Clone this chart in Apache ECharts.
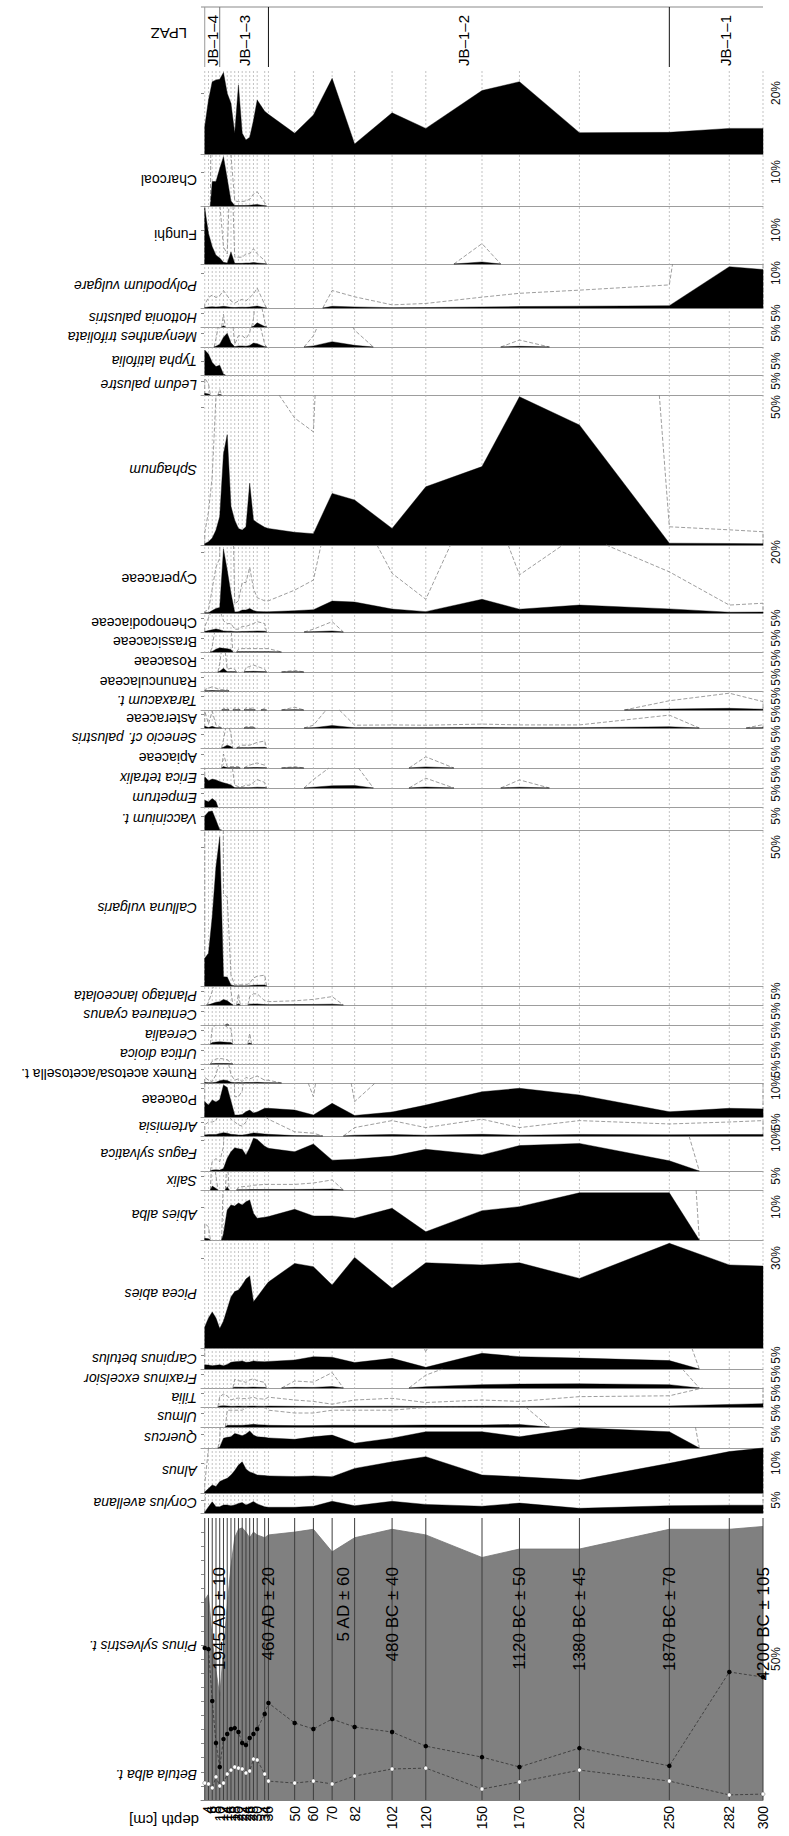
<!DOCTYPE html>
<html>
<head>
<meta charset="utf-8">
<title>Pollen diagram JB-1</title>
<script src="https://cdn.jsdelivr.net/npm/echarts@6/dist/echarts.min.js"></script>
<style>
  html, body { margin: 0; padding: 0; background: #fff; }
  #chart { width: 789px; height: 1836px; }
</style>
</head>
<body>
<div id="chart"></div>
<script>
// Sample depths (cm)
const depths = [2, 4, 6, 8, 10, 12, 14, 16, 18, 20, 22, 24, 26, 28, 30, 34, 36, 50, 60, 70, 82, 102, 120, 150, 170, 202, 250, 282, 300];

// Main panel: arboreal pollen sum, Betula curve and Pinus curve (%)
const arborealSum = [71, 73, 57, 46, 37, 53, 69, 83, 93, 96, 96.5, 95, 93, 95, 94, 93, 94, 95, 96, 88, 93, 96, 94, 86, 89, 89, 96, 96, 97];
const betula = [6.0, 5.7, 4.3, 8.2, 5.0, 6.0, 9.2, 10.6, 11.7, 11.3, 11.0, 9.6, 10.3, 14.5, 14.2, 9.2, 6.7, 6.0, 6.7, 5.7, 8.5, 11.0, 11.3, 3.9, 6.4, 10.6, 6.7, 1.8, 2.1];
const pinus = [53.9, 53.5, 35.1, 20.2, 11.7, 21.6, 23.4, 25.2, 25.5, 24.1, 20.2, 19.5, 22.0, 23.4, 25.2, 30.5, 34.4, 27.3, 25.2, 28.7, 25.9, 24.1, 19.1, 15.2, 11.7, 18.4, 12.1, 45.4, 43.6];

// Trees and shrubs (%)
const corylus = [0.3, 2.4, 4.3, 2.4, 2.4, 3.1, 3.1, 2.8, 3.1, 3.7, 4.0, 3.1, 3.7, 4.4, 3.5, 2.4, 2.2, 2.2, 2.6, 4.5, 2.8, 4.5, 3.3, 2.6, 3.8, 1.8, 2.8, 3.0, 3.0];
const alnus = [0.3, 1.5, 2.7, 2.2, 3.8, 4.4, 4.9, 6.0, 7.5, 9.3, 10.4, 8.0, 7.0, 6.6, 6.0, 5.8, 5.7, 5.5, 5.7, 5.4, 8.2, 10.4, 12.1, 6.0, 5.4, 4.3, 9.9, 13.8, 15.0];
const quercus = [0, 0, 0, 0, 0.3, 3.5, 3.8, 4.0, 5.2, 4.8, 4.4, 5.0, 6.1, 4.6, 4.0, 3.8, 3.6, 3.1, 4.0, 4.6, 1.7, 3.5, 5.8, 5.8, 4.0, 7.2, 5.8, 0, 0];
const ulmus = [0, 0, 0, 0, 0, 0, 0.6, 0.6, 0.6, 0.6, 0.6, 0.7, 0.8, 1.0, 0.8, 0.7, 0.6, 0.5, 0.5, 0.6, 0.6, 0.6, 0.7, 0.7, 0.9, 0, 0, 0, 0];
const tilia = [0, 0, 0, 0, 0.37, 0.46, 0.4, 0.25, 0.3, 0.32, 0.3, 0.3, 0.32, 0.35, 0.3, 0.28, 0.35, 0.25, 0.2, 0.1, 0.25, 0.31, 0.16, 0.25, 0.2, 0.37, 0.4, 0.9, 1.2];
const fraxinus = [0, 0, 0, 0, 0, 0, 0, 0, 0.31, 0.26, 0.24, 0.2, 0.29, 0.33, 0.26, 0.2, 0, 0.25, 0.21, 0.55, 0, 0, 0.46, 1.2, 1.4, 1.5, 1.2, 0, 0];
const carpinus = [1.5, 1.4, 1.2, 1.3, 1.5, 1.2, 1.6, 2.4, 2.6, 2.7, 2.9, 2.4, 2.5, 2.9, 2.7, 2.6, 2.7, 3.2, 4.4, 4.2, 2.3, 3.8, 0.6, 5.6, 4.4, 3.9, 3.0, 0, 0];
const picea = [7.0, 10, 12, 10, 6.5, 9, 13, 17, 18.8, 19.3, 21, 23, 24, 15.4, 17, 20.4, 22, 28.2, 27.1, 21, 30.2, 19.9, 28.4, 27.7, 28.4, 23.2, 34.9, 27.7, 27.3];
const abies = [0.5, 0.4, 0, 0, 0, 2.0, 9.1, 10.6, 10.3, 11.2, 10.6, 11.6, 12.1, 8.1, 6.6, 6.9, 7.1, 9.3, 7.3, 7.3, 6.6, 9.6, 2.5, 8.9, 10.1, 14.3, 14.3, 0, 0];
const salix = [0, 0, 1.4, 0.5, 0, 0, 1.2, 0, 0, 0.1, 0.12, 0.13, 0.14, 0.17, 0.18, 0.2, 0.2, 0.2, 0.25, 0.36, 0, 0, 0, 0, 0, 0, 0, 0, 0];
const fagus = [0, 0, 0.3, 0.4, 0.3, 0.8, 4.1, 6.2, 7.5, 7.2, 7.0, 5.2, 7.5, 10.6, 10.2, 8.0, 7.3, 6.2, 8.7, 3.5, 3.8, 4.8, 7.0, 5.2, 8.2, 8.9, 3.3, 0, 0];

// Herbs and dwarf shrubs (%)
const artemisia = [0.4, 0.5, 0.5, 0.55, 0.9, 1.2, 1.0, 0.6, 0.5, 0.4, 0.35, 0.5, 0.8, 1.1, 1.0, 0.7, 0.6, 0.15, 0.1, 0, 0.3, 0.55, 0.3, 0.6, 0.3, 0.55, 0.43, 0.5, 0.55];
const poaceae = [5.3, 4.1, 5.9, 5.2, 6.0, 11.0, 10.2, 5.5, 0.7, 0.7, 0.9, 1.8, 2.4, 1.4, 1.7, 3.0, 3.0, 2.4, 0.7, 4.7, 0.53, 1.7, 4.1, 8.7, 9.9, 7.6, 1.8, 3.0, 2.8];
const rumex = [0.2, 0.1, 0.05, 0.3, 0.8, 1.1, 0.9, 0.3, 0.1, 0.15, 0.05, 0.2, 0.15, 0.2, 0.25, 0.1, 0.1, 0, 0, 0, 0, 0, 0, 0, 0, 0, 0, 0, 0];
const urtica = [0, 0, 0.1, 0.18, 0.2, 0.18, 0.15, 0.05, 0, 0, 0, 0, 0, 0, 0, 0, 0, 0, 0, 0, 0, 0, 0, 0, 0, 0, 0, 0, 0];
const cerealia = [0, 0, 0.55, 0.7, 0.8, 0.7, 0.6, 0.55, 0, 0, 0, 0, 0.38, 0, 0, 0, 0, 0, 0, 0, 0, 0, 0, 0, 0, 0, 0, 0, 0];
const centaurea = [0, 0, 0, 0, 0, 0, 0.05, 0, 0, 0, 0, 0, 0, 0, 0, 0, 0, 0, 0, 0, 0, 0, 0, 0, 0, 0, 0, 0, 0];
const plantago = [0, 0.1, 0.5, 1.0, 1.2, 2.0, 1.5, 0.5, 0, 0.4, 0, 0, 0.3, 0.4, 0.4, 0.15, 0.12, 0.15, 0.2, 0.3, 0, 0, 0, 0, 0, 0, 0, 0, 0];
const calluna = [10, 11.8, 25, 43, 53.7, 3.3, 3.2, 0.4, 0.04, 0.04, 0.04, 0.04, 0.1, 0.29, 0.35, 0.39, 0, 0, 0, 0, 0, 0, 0, 0, 0, 0, 0, 0, 0];
const vaccinium = [5.0, 6.5, 6.8, 3.5, 0.1, 0, 0, 0, 0, 0, 0, 0, 0, 0, 0, 0, 0, 0, 0, 0, 0, 0, 0, 0, 0, 0, 0, 0, 0];
const empetrum = [2.4, 1.9, 3.0, 2.0, 0, 0, 0, 0, 0, 0, 0, 0, 0, 0, 0, 0, 0, 0, 0, 0, 0, 0, 0, 0, 0, 0, 0, 0, 0];
const erica = [4.0, 2.6, 3.2, 2.9, 2.3, 1.9, 1.5, 1.1, 0.1, 0.05, 0.05, 0.1, 0.1, 0.2, 0.3, 0.2, 0, 0, 0.3, 0.8, 0.9, 0, 0.35, 0, 0.29, 0, 0, 0, 0];
const apiaceae = [0, 0, 0, 0, 0, 0.5, 0.05, 0.05, 0.05, 0.05, 0, 0.05, 0.1, 0.15, 0.18, 0.1, 0, 0.05, 0, 0, 0, 0, 0.4, 0, 0, 0, 0, 0, 0];
const senecio = [0, 0, 0, 0, 0, 0.3, 1.0, 0.5, 0, 0.05, 0.1, 0.1, 0.1, 0.15, 0.2, 0.25, 0, 0, 0, 0, 0, 0, 0, 0, 0, 0, 0, 0, 0];
const asteraceae = [0.6, 0.15, 0.6, 0.1, 0.05, 0, 0, 0, 0, 0, 0, 0.05, 0.05, 0.05, 0, 0, 0, 0, 0.1, 0.9, 0.1, 0.11, 0.1, 0.14, 0.11, 0.11, 0.46, 0, 0.12];
const taraxacum = [0, 0, 0, 0, 0, 0.05, 0.08, 0, 0.08, 0.05, 0, 0.08, 0.05, 0.08, 0, 0.06, 0, 0.1, 0, 0, 0, 0, 0, 0, 0, 0, 0.33, 0.6, 0.3];
const ranunculaceae = [0.05, 0.1, 0.15, 0.1, 0.05, 0.05, 0.05, 0, 0, 0, 0, 0, 0, 0, 0, 0, 0, 0, 0, 0, 0, 0, 0, 0, 0, 0, 0, 0, 0];
const rosaceae = [0, 0, 0, 0, 0.3, 1.3, 0.1, 0.13, 0.1, 0, 0, 0.15, 0.2, 0.25, 0.2, 0.1, 0, 0.06, 0, 0, 0, 0, 0, 0, 0, 0, 0, 0, 0];
const brassicaceae = [0, 0, 0.2, 1.0, 1.5, 1.3, 1.2, 0.9, 0, 0.1, 0.12, 0.12, 0.12, 0.12, 0.12, 0.12, 0.12, 0, 0, 0, 0, 0, 0, 0, 0, 0, 0, 0, 0];
const chenopodiaceae = [0.2, 0.5, 0.8, 1.1, 0.8, 0.4, 0.3, 0.3, 0.1, 0.1, 0.2, 0.2, 0.25, 0.3, 0.37, 0.3, 0, 0, 0.1, 0.37, 0, 0, 0, 0, 0, 0, 0, 0, 0];
const cyperaceae = [0.05, 0.1, 0.8, 1.5, 1.8, 21, 14, 6.5, 0.3, 0.4, 1.0, 1.0, 1.5, 0.8, 0.5, 0.4, 0.4, 0.75, 1.08, 3.9, 3.6, 1.3, 0.45, 4.5, 1.25, 2.6, 1.35, 0.26, 0.32];

// Mire taxa, spores, fungi and charcoal (%)
const sphagnum = [0.45, 1.2, 2.5, 5.4, 10.3, 33, 40, 14, 9, 6, 5.4, 6.6, 22.4, 9.1, 8.1, 6.4, 6.0, 4.6, 4.1, 18.7, 16.3, 6.0, 21.1, 28.4, 53.7, 43.5, 0.66, 0.55, 0.48];
const ledum = [0.6, 0.4, 0, 0, 0.2, 0, 0, 0, 0, 0, 0, 0, 0, 0, 0, 0, 0, 0, 0, 0, 0, 0, 0, 0, 0, 0, 0, 0, 0];
const typha = [8.9, 7.5, 4.5, 3.0, 3.5, 0.3, 0, 0, 0, 0, 0, 0, 0, 0, 0, 0, 0, 0, 0, 0, 0, 0, 0, 0, 0, 0, 0, 0, 0];
const menyanthes = [0, 0, 0, 0.3, 1.0, 3.5, 4.9, 1.5, 0.1, 0.4, 0.4, 0.3, 0.5, 1.4, 1.2, 0.1, 0, 0, 0.4, 1.9, 0.6, 0, 0, 0, 0.25, 0, 0, 0, 0];
const hottonia = [0, 0, 0, 0, 0, 0.45, 0, 0, 0, 0, 0, 0, 0, 0.3, 1.5, 0.2, 0, 0, 0, 0, 0, 0, 0, 0, 0, 0, 0, 0, 0];
const polypodium = [0.1, 0.3, 0.37, 0.3, 0.35, 0.5, 0.35, 0.2, 0.14, 0.2, 0.25, 0.2, 0.3, 0.4, 0.57, 0.1, 0, 0, 0, 0.5, 0.32, 0.09, 0.13, 0.31, 0.42, 0.51, 0.66, 11.8, 11.0];
const funghi = [16.5, 9.0, 5.1, 2.6, 1.8, 0.5, 0.3, 3.5, 0.2, 0.2, 0.2, 0.3, 0.3, 0.45, 0.3, 0.1, 0, 0, 0, 0, 0, 0, 0, 0.6, 0, 0, 0, 0, 0];
const charcoal = [0, 0, 7.2, 7.2, 11, 14.5, 8, 1.5, 0.15, 0.13, 0.13, 0.15, 0.2, 0.35, 0.42, 0.1, 0, 0, 0, 0, 0, 0, 0, 0, 0, 0, 0, 0, 0];
const summaryCurve = [9.0, 17.7, 23.7, 24.3, 24.5, 26.7, 19.9, 16.6, 6.8, 22.6, 6.8, 4.6, 5.5, 11.0, 17.7, 14.0, 13.0, 6.8, 12.8, 24.8, 3.3, 13.5, 8.4, 20.8, 23.7, 7.0, 7.1, 8.4, 8.4];

// Radiocarbon dates
const dateDepths = [10, 36, 76, 102, 170, 202, 250, 300];
const dateTexts = ['1945 AD ± 10', '460 AD ± 20', '5 AD ± 60', '480 BC ± 40', '1120 BC ± 50', '1380 BC ± 45', '1870 BC ± 70', '4200 BC ± 105'];

// Local pollen assemblage zones
const zoneNames = ['JB–1–4', 'JB–1–3', 'JB–1–2', 'JB–1–1'];
const zoneLabelDepths = [6, 23, 140, 280];
const zoneBounds = [10, 36, 250];

// ---------------------------------------------------------------------------
// Layout of the curve panels: pixel band, percent scale, labelled tick
const FONT = '"Liberation Sans", Arial, Helvetica, sans-serif';
const PLOT_LEFT = 201;
const PLOT_RIGHT = 26;
const EXAGGERATION = 10;

const strips = [
  { name: '', values: summaryCurve, top: 70, bottom: 154, px: 3.05, tick: 20, exag: false },
  { name: 'Charcoal', values: charcoal, top: 154, bottom: 206, px: 3.4, tick: 10, exag: true },
  { name: 'Funghi', values: funghi, top: 206, bottom: 264, px: 3.4, tick: 10, exag: true },
  { name: 'Polypodium vulgare', italic: true, values: polypodium, top: 264, bottom: 308, px: 3.5, tick: 10, exag: true },
  { name: 'Hottonia palustris', italic: true, values: hottonia, top: 308, bottom: 327, px: 2.8, tick: 5, exag: true },
  { name: 'Menyanthes trifoliata', italic: true, values: menyanthes, top: 327, bottom: 347, px: 2.8, tick: 5, exag: true },
  { name: 'Typha latifolia', italic: true, values: typha, top: 347, bottom: 375, px: 2.8, tick: 5, exag: false },
  { name: 'Ledum palustre', italic: true, values: ledum, top: 375, bottom: 395, px: 2.8, tick: 5, exag: true },
  { name: 'Sphagnum', italic: true, values: sphagnum, top: 395, bottom: 545, px: 2.76, tick: 50, exag: true },
  { name: 'Cyperaceae', values: cyperaceae, top: 545, bottom: 613, px: 3.05, tick: 20, exag: true },
  { name: 'Chenopodiaceae', values: chenopodiaceae, top: 613, bottom: 632, px: 2.8, tick: 5, exag: true },
  { name: 'Brassicaceae', values: brassicaceae, top: 632, bottom: 652, px: 2.8, tick: 5, exag: true },
  { name: 'Rosaceae', values: rosaceae, top: 652, bottom: 672, px: 2.8, tick: 5, exag: true },
  { name: 'Ranunculaceae', values: ranunculaceae, top: 672, bottom: 691, px: 2.8, tick: 5, exag: true },
  { name: 'Taraxacum t.', italic: true, values: taraxacum, top: 691, bottom: 710, px: 2.8, tick: 5, exag: true },
  { name: 'Asteraceae', values: asteraceae, top: 710, bottom: 728, px: 2.8, tick: 5, exag: true },
  { name: 'Senecio cf. palustris', italic: true, values: senecio, top: 728, bottom: 748, px: 2.8, tick: 5, exag: true },
  { name: 'Apiaceae', values: apiaceae, top: 748, bottom: 768, px: 2.8, tick: 5, exag: true },
  { name: 'Erica tetralix', italic: true, values: erica, top: 768, bottom: 788, px: 2.8, tick: 5, exag: true },
  { name: 'Empetrum', italic: true, values: empetrum, top: 788, bottom: 807, px: 2.8, tick: 5, exag: false },
  { name: 'Vaccinium t.', italic: true, values: vaccinium, top: 807, bottom: 830, px: 2.8, tick: 5, exag: false },
  { name: 'Calluna vulgaris', italic: true, values: calluna, top: 830, bottom: 986, px: 2.78, tick: 50, exag: true },
  { name: 'Plantago lanceolata', italic: true, values: plantago, top: 986, bottom: 1005, px: 2.8, tick: 5, exag: true },
  { name: 'Centaurea cyanus', italic: true, values: centaurea, top: 1005, bottom: 1025, px: 2.8, tick: 5, exag: true },
  { name: 'Cerealia', italic: true, values: cerealia, top: 1025, bottom: 1044, px: 2.8, tick: 5, exag: true },
  { name: 'Urtica dioica', italic: true, values: urtica, top: 1044, bottom: 1064, px: 2.8, tick: 5, exag: true },
  { name: 'Rumex acetosa/acetosella t.', values: rumex, top: 1064, bottom: 1083, px: 2.8, tick: 5, exag: true },
  { name: 'Poaceae', values: poaceae, top: 1083, bottom: 1117, px: 2.9, tick: 10, exag: true },
  { name: 'Artemisia', italic: true, values: artemisia, top: 1117, bottom: 1136, px: 2.8, tick: 5, exag: true },
  { name: 'Fagus sylvatica', italic: true, values: fagus, top: 1136, bottom: 1171, px: 3.1, tick: 10, exag: true },
  { name: 'Salix', italic: true, values: salix, top: 1171, bottom: 1190, px: 2.8, tick: 5, exag: true },
  { name: 'Abies alba', italic: true, values: abies, top: 1190, bottom: 1240, px: 3.3, tick: 10, exag: true },
  { name: 'Picea abies', italic: true, values: picea, top: 1240, bottom: 1348, px: 3.0, tick: 30, exag: false },
  { name: 'Carpinus betulus', italic: true, values: carpinus, top: 1348, bottom: 1369, px: 2.8, tick: 5, exag: true },
  { name: 'Fraxinus excelsior', italic: true, values: fraxinus, top: 1369, bottom: 1388, px: 2.8, tick: 5, exag: true },
  { name: 'Tilia', italic: true, values: tilia, top: 1388, bottom: 1407, px: 2.8, tick: 5, exag: true },
  { name: 'Ulmus', italic: true, values: ulmus, top: 1407, bottom: 1427, px: 2.8, tick: 5, exag: true },
  { name: 'Quercus', italic: true, values: quercus, top: 1427, bottom: 1448, px: 2.8, tick: 5, exag: true },
  { name: 'Alnus', italic: true, values: alnus, top: 1448, bottom: 1493, px: 3.0, tick: 10, exag: true },
  { name: 'Corylus avellana', italic: true, values: corylus, top: 1493, bottom: 1513, px: 2.6, tick: 5, exag: true }
];
const MAIN_TOP = 1518, MAIN_BOTTOM = 1800;
const LPAZ_TOP = 7, LPAZ_BOTTOM = 67;

// ---------------------------------------------------------------------------
const chart = echarts.init(document.getElementById('chart'), null, { renderer: 'svg', width: 789, height: 1836 });

const grid = [], xAxis = [], yAxis = [], series = [];

function addGrid(top, bottom, xOpts, yOpts) {
  const idx = grid.length;
  grid.push({ left: PLOT_LEFT, right: PLOT_RIGHT, top: top, height: bottom - top });
  xAxis.push(Object.assign({ gridIndex: idx, type: 'value', min: 0, max: 300, show: false }, xOpts || {}));
  yAxis.push(Object.assign({ gridIndex: idx, type: 'value', min: 0, max: 1, show: false }, yOpts || {}));
  return idx;
}

// Split a polyline where it rises above the top of the panel
function clipAbove(pts, limit) {
  const out = [];
  let cur = [];
  for (let k = 0; k < pts.length; k++) {
    const p = pts[k];
    if (k === 0) { if (p[1] <= limit) cur.push(p); continue; }
    const q = pts[k - 1];
    const pin = p[1] <= limit, qin = q[1] <= limit;
    if (pin && qin) {
      cur.push(p);
    } else if (qin && !pin) {
      const t = (limit - q[1]) / (p[1] - q[1]);
      cur.push([q[0] + t * (p[0] - q[0]), limit]);
      if (cur.length > 1) out.push(cur);
      cur = [];
    } else if (!qin && pin) {
      const t = (limit - q[1]) / (p[1] - q[1]);
      cur = [[q[0] + t * (p[0] - q[0]), limit], p];
    }
  }
  if (cur.length > 1) out.push(cur);
  return out;
}

// Silhouette curve: runs of non-zero samples close to the baseline half way to the next sample
function silhouette(values, axisMax, exag) {
  return function (params, api) {
    const n = depths.length;
    const children = [];
    let i = 0;
    while (i < n) {
      if (!(values[i] > 0)) { i++; continue; }
      let j = i;
      while (j + 1 < n && values[j + 1] > 0) j++;
      const start = i > 0 ? (depths[i - 1] + depths[i]) / 2 : depths[i];
      const end = j < n - 1 ? (depths[j] + depths[j + 1]) / 2 : depths[j];
      const pts = [[start, 0]];
      for (let k = i; k <= j; k++) pts.push([depths[k], values[k]]);
      pts.push([end, 0]);
      if (exag) {
        const ex = pts.map(p => [p[0], p[1] * EXAGGERATION]);
        clipAbove(ex, axisMax).forEach(seg => {
          children.push({
            type: 'polyline',
            shape: { points: seg.map(p => api.coord(p)) },
            style: { stroke: '#858585', lineWidth: 0.8, lineDash: [4, 2], fill: null }
          });
        });
      }
      children.push({
        type: 'polygon',
        shape: { points: pts.map(p => api.coord(p)) },
        style: { fill: '#000', stroke: '#000', lineWidth: 0.4 }
      });
      i = j + 1;
    }
    return { type: 'group', children: children };
  };
}

// Dotted sample lines behind all curve panels
const bgIdx = addGrid(strips[0].top, strips[strips.length - 1].bottom);
series.push({
  type: 'custom', xAxisIndex: bgIdx, yAxisIndex: bgIdx, silent: true, z: 1,
  data: depths.map(d => [d]),
  renderItem: function (params, api) {
    const d = api.value(0);
    const a = api.coord([d, 0]), b = api.coord([d, 1]);
    return { type: 'line', shape: { x1: a[0], y1: a[1], x2: b[0], y2: b[1] },
      style: { stroke: '#a9a9a9', lineWidth: 0.7, lineDash: [2, 2] } };
  }
});

// Curve panels
strips.forEach(s => {
  const axisMax = (s.bottom - s.top) / s.px;
  const idx = addGrid(s.top, s.bottom,
    { show: true, axisLine: { show: true, lineStyle: { color: '#9d9d9d', width: 1 } },
      axisTick: { show: false }, axisLabel: { show: false }, splitLine: { show: false } },
    { show: true, position: 'right', max: axisMax,
      axisLine: { show: false }, splitLine: { show: false },
      axisTick: { show: true, customValues: [s.tick], length: 3, lineStyle: { color: '#888' } },
      axisLabel: { show: true, customValues: [s.tick], formatter: v => v + '%', rotate: 90,
        fontSize: 12, margin: 7, color: '#111', fontFamily: FONT } });
  series.push({
    type: 'custom', xAxisIndex: idx, yAxisIndex: idx, silent: true, z: 3,
    data: [[0, 0]],
    renderItem: silhouette(s.values, axisMax, s.exag)
  });
});

// Main panel: arboreal sum with Betula and Pinus curves
const mainIdx = addGrid(MAIN_TOP, MAIN_BOTTOM,
  { show: true, axisLine: { show: true, lineStyle: { color: '#808080' } }, axisTick: { show: false },
    splitLine: { show: false },
    axisLabel: { show: true, customValues: depths, rotate: 90, fontSize: 14, margin: 6,
      color: '#000', fontFamily: FONT } },
  { show: true, position: 'right', max: 100, axisLine: { show: false }, splitLine: { show: false },
    axisTick: { show: true, customValues: [5, 10, 15, 20, 25, 30, 35, 40, 45, 50, 55, 60, 65, 70, 75, 80, 85, 90, 95],
      length: 3, lineStyle: { color: '#888' } },
    axisLabel: { show: true, customValues: [50], formatter: v => v + '%', rotate: 90, fontSize: 12,
      margin: 7, color: '#111', fontFamily: FONT } });

series.push({
  type: 'line', xAxisIndex: mainIdx, yAxisIndex: mainIdx, silent: true, z: 2,
  data: depths.map((d, i) => [d, arborealSum[i]]),
  symbol: 'none', lineStyle: { color: '#737373', width: 0.8 },
  areaStyle: { color: '#808080', opacity: 1 }
});
series.push({
  type: 'custom', xAxisIndex: mainIdx, yAxisIndex: mainIdx, silent: true, z: 3,
  data: depths.map(d => [d]),
  renderItem: function (params, api) {
    const d = api.value(0);
    const a = api.coord([d, 0]), b = api.coord([d, 100]);
    return { type: 'line', shape: { x1: a[0], y1: a[1], x2: b[0], y2: b[1] },
      style: { stroke: '#3d3d3d', lineWidth: 1 } };
  }
});
series.push({
  name: 'Betula alba t.', type: 'line', xAxisIndex: mainIdx, yAxisIndex: mainIdx, silent: true, z: 5,
  data: depths.map((d, i) => [d, betula[i]]),
  symbol: 'circle', symbolSize: 4,
  itemStyle: { color: '#fff', borderColor: '#444', borderWidth: 0.4 },
  lineStyle: { color: '#262626', width: 0.7, type: [3, 2] }
});
series.push({
  name: 'Pinus sylvestris t.', type: 'line', xAxisIndex: mainIdx, yAxisIndex: mainIdx, silent: true, z: 5,
  data: depths.map((d, i) => [d, pinus[i]]),
  symbol: 'circle', symbolSize: 4.5,
  itemStyle: { color: '#000' },
  lineStyle: { color: '#262626', width: 0.7, type: [3, 2] }
});

// Zone panel
const lpazIdx = addGrid(LPAZ_TOP, LPAZ_BOTTOM);
series.push({
  type: 'custom', xAxisIndex: lpazIdx, yAxisIndex: lpazIdx, silent: true, z: 3,
  data: [[0, 0]],
  renderItem: function (params, api) {
    const children = [];
    const a = api.coord([0, 1]), b = api.coord([300, 1]);
    children.push({ type: 'line', shape: { x1: a[0], y1: a[1], x2: b[0], y2: b[1] },
      style: { stroke: '#8a8a8a', lineWidth: 1.2 } });
    const l0 = api.coord([depths[0], 0]), l1 = api.coord([depths[0], 1]);
    children.push({ type: 'line', shape: { x1: l0[0], y1: l0[1], x2: l1[0], y2: l1[1] },
      style: { stroke: '#9a9a9a', lineWidth: 1 } });
    zoneBounds.forEach((z, k) => {
      const p = api.coord([z, 0]), q = api.coord([z, 1]);
      children.push({ type: 'line', shape: { x1: p[0], y1: p[1], x2: q[0], y2: q[1] },
        style: { stroke: k === 0 ? '#777' : '#111', lineWidth: 1 } });
    });
    return { type: 'group', children: children };
  }
});

chart.setOption({ animation: false, grid: grid, xAxis: xAxis, yAxis: yAxis, series: series });

// Text: taxon names (upside down), dates, zones
const graphics = [];
function upsideDown(text, x, y, italic, size) {
  return { type: 'text', x: x, y: y, rotation: Math.PI, silent: true, z: 10,
    style: { text: text, fill: '#000', fontSize: size || 14, fontFamily: FONT,
      fontStyle: italic ? 'italic' : 'normal', align: 'left', verticalAlign: 'middle' } };
}
strips.forEach(s => {
  if (s.name) graphics.push(upsideDown(s.name, 197, (s.top + s.bottom) / 2, s.italic));
});
const firstB = chart.convertToPixel({ gridIndex: mainIdx }, [depths[0], betula[0]]);
const firstP = chart.convertToPixel({ gridIndex: mainIdx }, [depths[0], pinus[0]]);
graphics.push(upsideDown('Betula alba t.', 197, firstB[1] - 8, true));
graphics.push(upsideDown('Pinus sylvestris t.', 197, firstP[1] - 2, true));
graphics.push(upsideDown('depth [cm]', 199, 1820, false, 15));
graphics.push(upsideDown('LPAZ', 187, 33, false, 15));

dateDepths.forEach((d, k) => {
  const p = chart.convertToPixel({ gridIndex: mainIdx }, [d, 82.6]);
  graphics.push({ type: 'text', x: p[0], y: p[1], rotation: Math.PI / 2, silent: true, z: 10,
    style: { text: dateTexts[k], fill: '#000', fontSize: 17, fontFamily: FONT,
      align: 'right', verticalAlign: 'middle' } });
});
zoneNames.forEach((name, k) => {
  const p = chart.convertToPixel({ gridIndex: lpazIdx }, [zoneLabelDepths[k], 1]);
  graphics.push({ type: 'text', x: p[0], y: p[1] + 8, rotation: Math.PI / 2, silent: true, z: 10,
    style: { text: name, fill: '#000', fontSize: 15, fontFamily: FONT,
      align: 'right', verticalAlign: 'middle' } });
});
chart.setOption({ graphic: graphics });
</script>
</body>
</html>
